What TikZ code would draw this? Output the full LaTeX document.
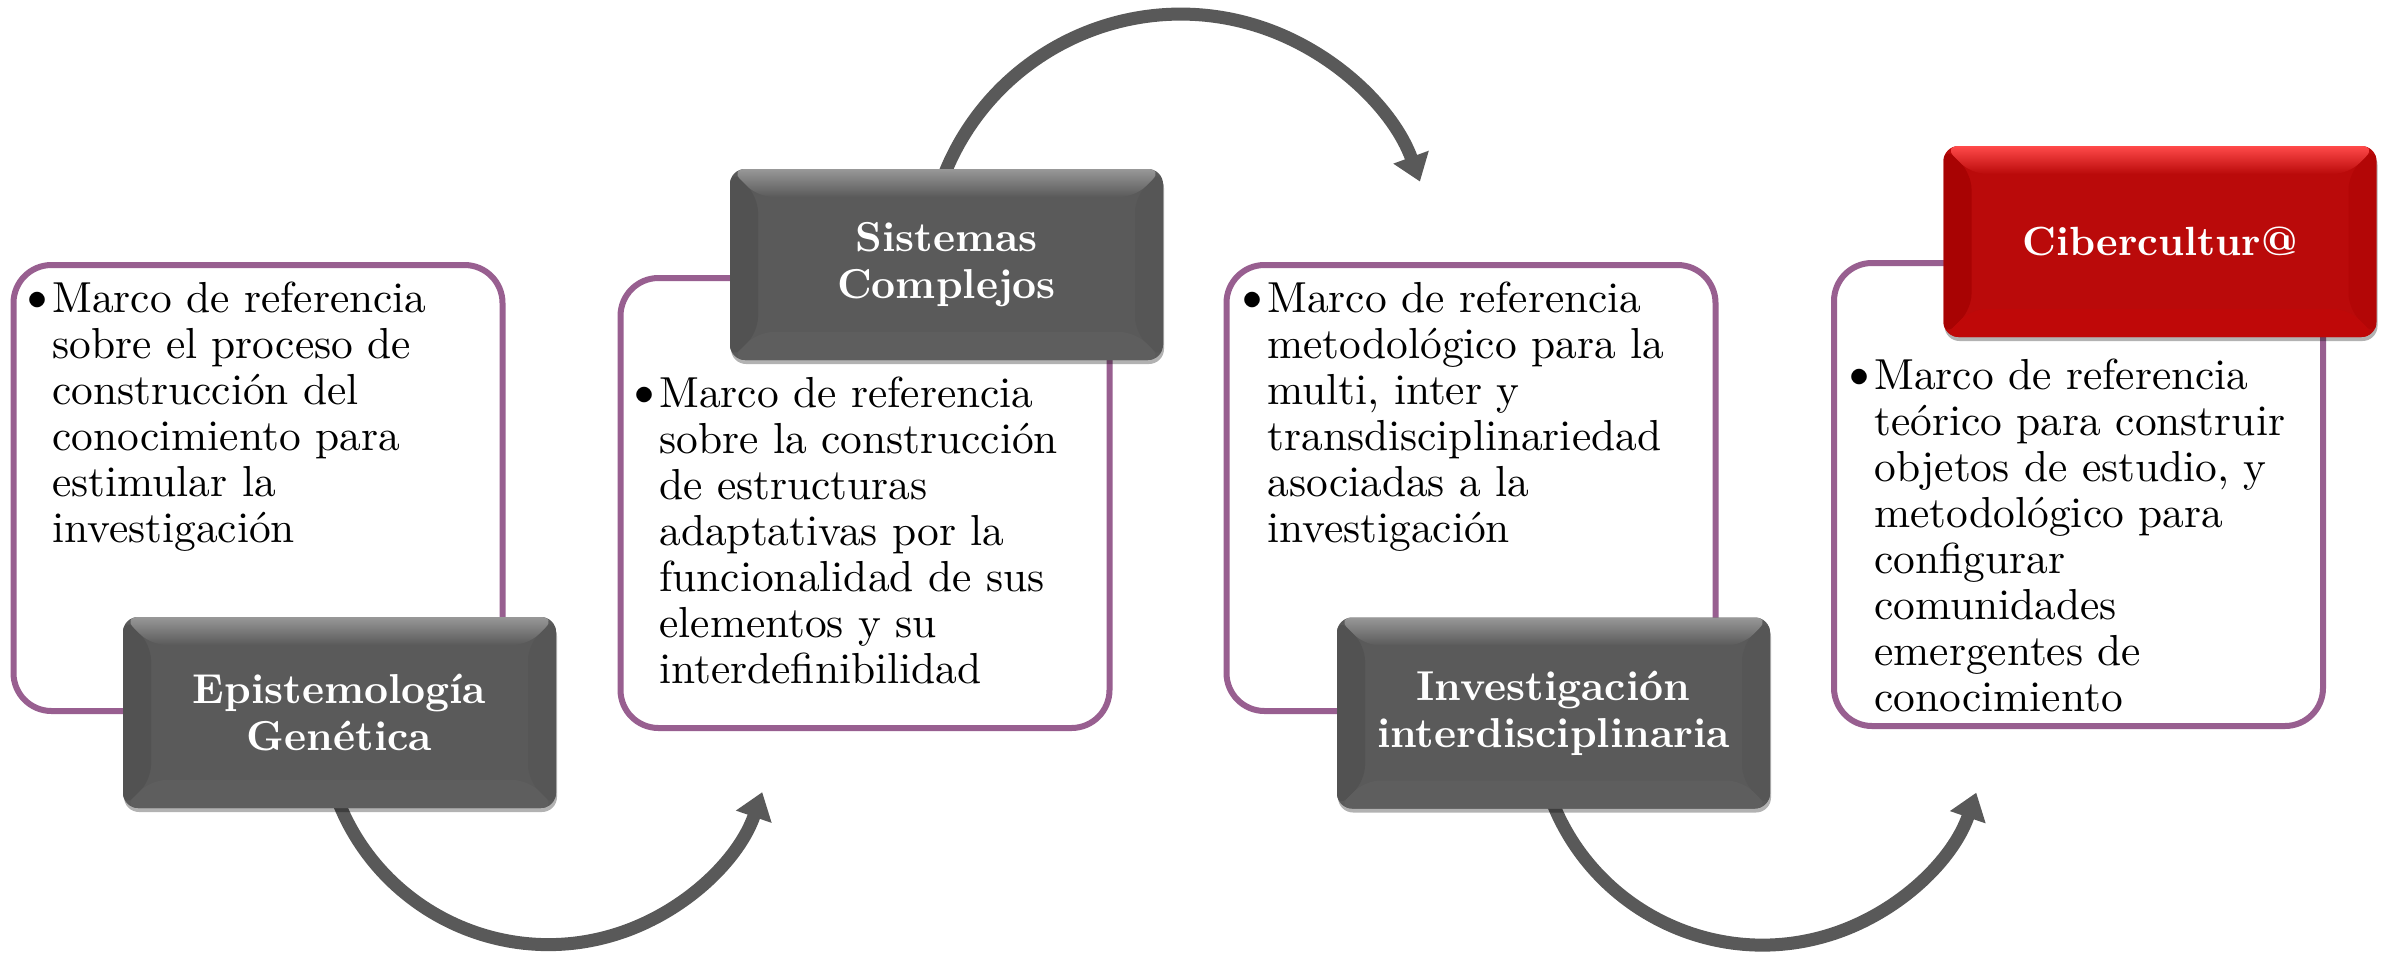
\documentclass[tikz,border=0pt]{standalone}
\usepackage{fontspec}
\setmainfont{lmroman10-regular}[Extension=.otf, BoldFont=lmroman10-bold, ItalicFont=lmroman10-italic, BoldItalicFont=lmroman10-bolditalic]
\usetikzlibrary{arrows.meta,shadows,calc}
\pgfdeclarelayer{bg}
\pgfsetlayers{bg,main}
\definecolor{framepurple}{HTML}{985F90}
\definecolor{hdrbase}{HTML}{5A5A5A}
\definecolor{hdrtop}{HTML}{989898}
\definecolor{hdrleft}{HTML}{525252}
\definecolor{hdrright}{HTML}{565656}
\definecolor{hdrbottom}{HTML}{5E5E5E}
\definecolor{redbase}{HTML}{BA0A0A}
\definecolor{redtop}{HTML}{FF4A4A}
\definecolor{redleft}{HTML}{A80303}
\definecolor{redright}{HTML}{B30606}
\definecolor{redbottom}{HTML}{BF0808}
\definecolor{arrowgray}{HTML}{595959}
\newcommand{\bodyfont}{\fontsize{21.7}{23}\selectfont}
\newcommand{\hdrfont}{\fontsize{20.9}{23.5}\selectfont\bfseries}
\newcommand{\redfont}{\fontsize{20.4}{23.5}\selectfont\bfseries}
\newcommand{\bul}{\llap{{\fontsize{27}{23}\selectfont\textbullet}\kern-3pt}}
\newcommand{\bevelpic}[5]{%
 \fill[#3] (path picture bounding box.north west) -- ([shift={(14pt,-14pt)}]path picture bounding box.north west) -- ([shift={(14pt,14pt)}]path picture bounding box.south west) -- (path picture bounding box.south west) -- cycle;
 \fill[#4] (path picture bounding box.north east) -- ([shift={(-14pt,-14pt)}]path picture bounding box.north east) -- ([shift={(-14pt,14pt)}]path picture bounding box.south east) -- (path picture bounding box.south east) -- cycle;
 \fill[#5] (path picture bounding box.south west) -- ([shift={(14pt,14pt)}]path picture bounding box.south west) -- ([shift={(-14pt,14pt)}]path picture bounding box.south east) -- (path picture bounding box.south east) -- cycle;
 \shade[top color=#1, bottom color=#2] (path picture bounding box.north west) -- ([shift={(14pt,-14pt)}]path picture bounding box.north west) -- ([shift={(-14pt,-14pt)}]path picture bounding box.north east) -- (path picture bounding box.north east) -- cycle;
}
\tikzset{
 textbox/.style={rectangle, draw=framepurple, line width=3pt, fill=white, rounded corners=19pt, minimum width=244.5pt, inner sep=0pt},
 hdrbox/.style={rectangle, rounded corners=7.5pt, minimum width=216.5pt, minimum height=95.5pt, inner sep=0pt, align=center, text=white, drop shadow={shadow xshift=0.5pt, shadow yshift=-2pt, opacity=0.3, fill=black}},
 grayhdr/.style={hdrbox, fill=hdrbase, font=\hdrfont, path picture={\bevelpic{hdrtop}{hdrbase}{hdrleft}{hdrright}{hdrbottom}}},
 redhdr/.style={hdrbox, fill=redbase, font=\redfont, path picture={\bevelpic{redtop}{redbase}{redleft}{redright}{redbottom}}},
 bodytext/.style={anchor=north west, inner sep=0pt, align=left, font=\bodyfont},
 flowarrow/.style={draw=arrowgray, line width=6.5pt, -{Triangle[length=13pt, width=18pt]}},
}
\begin{document}
\begin{tikzpicture}[x=0.5pt,y=-0.5pt]
\useasboundingbox (0,0) rectangle (2392,953);
% header boxes
\node[grayhdr] (d1) at (339.5,712.5) {Epistemología\\Genética};
\node[grayhdr] (d2) at (946.5,264.5) {Sistemas\\Complejos};
\node[grayhdr] (d3) at (1553.5,713) {Investigación\\interdisciplinaria};
\node[redhdr] (d4) at (2160,241.5) {Cibercultur@};
% body texts
\node[bodytext] (t1) at (52,281) {\bul Marco de referencia\\sobre el proceso de\\construcción del\\conocimiento para\\estimular la\\investigación};
\node[bodytext] (t2) at (659,376) {\bul Marco de referencia\\sobre la construcción\\de estructuras\\adaptativas por la\\funcionalidad de sus\\elementos y su\\interdefinibilidad};
\node[bodytext] (t3) at (1267,281) {\bul Marco de referencia\\metodológico para la\\multi, inter y\\transdisciplinariedad\\asociadas a la\\investigación};
\node[bodytext] (t4) at (1874,358) {\bul Marco de referencia\\teórico para construir\\objetos de estudio, y\\metodológico para\\configurar\\comunidades\\emergentes de\\conocimiento};
\begin{pgfonlayer}{bg}
 \fill[white] (0,0) rectangle (2392,953);
 \node[textbox, minimum height=223pt] (b1) at (258,488) {};
 \node[textbox, minimum height=225pt] (b2) at (865,503) {};
 \node[textbox, minimum height=223pt] (b3) at (1471,488) {};
 \node[textbox, minimum height=231.5pt] (b4) at (2078.5,494.5) {};
 \draw[flowarrow] ($(d1.south west)+(211,-20)$) arc[start angle=162, end angle=19, radius=226];
 \draw[flowarrow] ($(d2.north west)+(212,13)$) arc[start angle=200, end angle=340, radius=254.5];
 \draw[flowarrow] ($(d3.south west)+(211,-20)$) arc[start angle=162, end angle=19, radius=226];
\end{pgfonlayer}
\end{tikzpicture}
\end{document}
